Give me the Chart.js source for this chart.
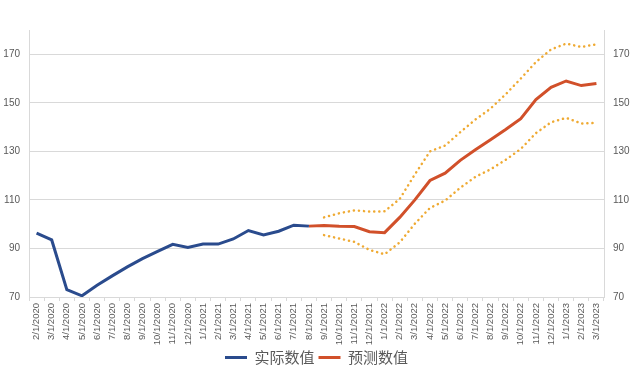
<!DOCTYPE html>
<html>
<head>
<meta charset="utf-8">
<script src="https://cdn.jsdelivr.net/npm/chart.js@4"></script>
<style>
  html, body { margin: 0; padding: 0; background: #ffffff; }
  #wrap { width: 642px; height: 384px; }
</style>
</head>
<body>
<div id="wrap"><canvas id="myChart" width="642" height="384"></canvas></div>
<script>
// Month labels (x axis)
const months = [
    '2/1/2020', '3/1/2020', '4/1/2020', '5/1/2020', '6/1/2020', '7/1/2020', '8/1/2020', '9/1/2020',
    '10/1/2020', '11/1/2020', '12/1/2020', '1/1/2021', '2/1/2021', '3/1/2021', '4/1/2021', '5/1/2021',
    '6/1/2021', '7/1/2021', '8/1/2021', '9/1/2021', '10/1/2021', '11/1/2021', '12/1/2021', '1/1/2022',
    '2/1/2022', '3/1/2022', '4/1/2022', '5/1/2022', '6/1/2022', '7/1/2022', '8/1/2022', '9/1/2022',
    '10/1/2022', '11/1/2022', '12/1/2022', '1/1/2023', '2/1/2023', '3/1/2023'
];

// Actual values, 2/1/2020 .. 8/1/2021
const actualValues = [96.3, 93.5, 73, 70.5, 74.8, 78.7, 82.4, 85.8, 88.8, 91.7, 90.4, 91.8, 91.8, 93.9, 97.4, 95.6, 97.1, 99.6, 99.2];

// Forecast, 8/1/2021 .. 3/1/2023
const forecastValues = [99.2, 99.5, 99.1, 99.0, 96.9, 96.5, 102.8, 110, 118, 121, 126.3, 130.7, 134.8, 139, 143.5, 151.3, 156.4, 159, 157.1, 158];

// Upper and lower bounds, 9/1/2021 .. 3/1/2023
const upperValues = [102.8, 104.5, 105.7, 105.2, 105.3, 110.4, 120.5, 130, 132.4, 137.9, 143.1, 147.6, 153.5, 160, 166.8, 172, 174.4, 173, 174.1];
const lowerValues = [95.5, 94.1, 92.7, 89.4, 87.6, 92.5, 100.2, 106.7, 109.7, 115, 119.5, 122.6, 126.5, 131, 137.5, 142, 143.8, 141.5, 141.7];

// Y axis ticks
const yTicks = [70, 90, 110, 130, 150, 170];
const yMin = 70;
const yMax = 180;

// Pad series with nulls so they line up with the month labels
function padTo(values, start) {
    const out = new Array(months.length).fill(null);
    values.forEach((v, i) => { out[start + i] = v; });
    return out;
}

const textColor = '#595959';
const gridColor = '#d9d9d9';
const tickFont = { family: '"Liberation Sans", Arial, sans-serif', size: 10 };

const ctx = document.getElementById('myChart').getContext('2d');
new Chart(ctx, {
    type: 'line',
    data: {
        labels: months,
        datasets: [
            {
                label: '实际数值',
                data: padTo(actualValues, 0),
                borderColor: '#2a4b8d',
                backgroundColor: '#2a4b8d',
                borderWidth: 3,
                pointRadius: 0,
                tension: 0,
                order: 2
            },
            {
                label: '预测数值',
                data: padTo(forecastValues, 18),
                borderColor: '#d1502a',
                backgroundColor: '#d1502a',
                borderWidth: 3,
                pointRadius: 0,
                tension: 0,
                order: 1
            },
            {
                label: 'upper',
                data: padTo(upperValues, 19),
                borderColor: '#efaa33',
                borderWidth: 2.5,
                borderDash: [0.1, 5],
                borderCapStyle: 'round',
                pointRadius: 0,
                tension: 0,
                order: 3
            },
            {
                label: 'lower',
                data: padTo(lowerValues, 19),
                borderColor: '#efaa33',
                borderWidth: 2.5,
                borderDash: [0.1, 5],
                borderCapStyle: 'round',
                pointRadius: 0,
                tension: 0,
                order: 3
            }
        ]
    },
    options: {
        responsive: false,
        animation: false,
        layout: { padding: { top: 30, left: 0, right: 0, bottom: 9 } },
        plugins: {
            legend: {
                position: 'bottom',
                fullSize: false,
                labels: {
                    boxWidth: 22,
                    boxHeight: 3,
                    padding: 4,
                    color: textColor,
                    font: { family: '"Noto Sans CJK SC", sans-serif', size: 15 },
                    // only the two main series, in dataset order
                    generateLabels: (chart) => {
                        const items = Chart.defaults.plugins.legend.labels.generateLabels(chart);
                        return items
                            .filter(item => item.datasetIndex < 2)
                            .sort((a, b) => a.datasetIndex - b.datasetIndex)
                            .map(item => Object.assign(item, { lineWidth: 0 }));
                    }
                }
            },
            tooltip: { enabled: false }
        },
        scales: {
            x: {
                offset: true,
                grid: {
                    offset: true,
                    drawOnChartArea: false,
                    drawTicks: true,
                    tickLength: 4,
                    color: gridColor
                },
                border: { display: true, color: gridColor },
                ticks: {
                    autoSkip: false,
                    minRotation: 90,
                    maxRotation: 90,
                    padding: 2,
                    color: textColor,
                    font: { family: '"Liberation Sans", Arial, sans-serif', size: 9.5 }
                },
                afterFit: (scale) => { scale.height = 49; }
            },
            y: {
                position: 'left',
                min: yMin,
                max: yMax,
                afterBuildTicks: (scale) => { scale.ticks = yTicks.map(v => ({ value: v })); },
                grid: { color: gridColor, drawTicks: false },
                border: { display: true, color: gridColor },
                ticks: { padding: 9, color: textColor, font: tickFont },
                afterFit: (scale) => { scale.width = 29; }
            },
            y2: {
                position: 'right',
                min: yMin,
                max: yMax,
                afterBuildTicks: (scale) => { scale.ticks = yTicks.map(v => ({ value: v })); },
                grid: { drawOnChartArea: false, drawTicks: false },
                border: { display: true, color: gridColor },
                ticks: { padding: 9, color: textColor, font: tickFont },
                afterFit: (scale) => { scale.width = 38; }
            }
        }
    }
});
</script>
</body>
</html>
